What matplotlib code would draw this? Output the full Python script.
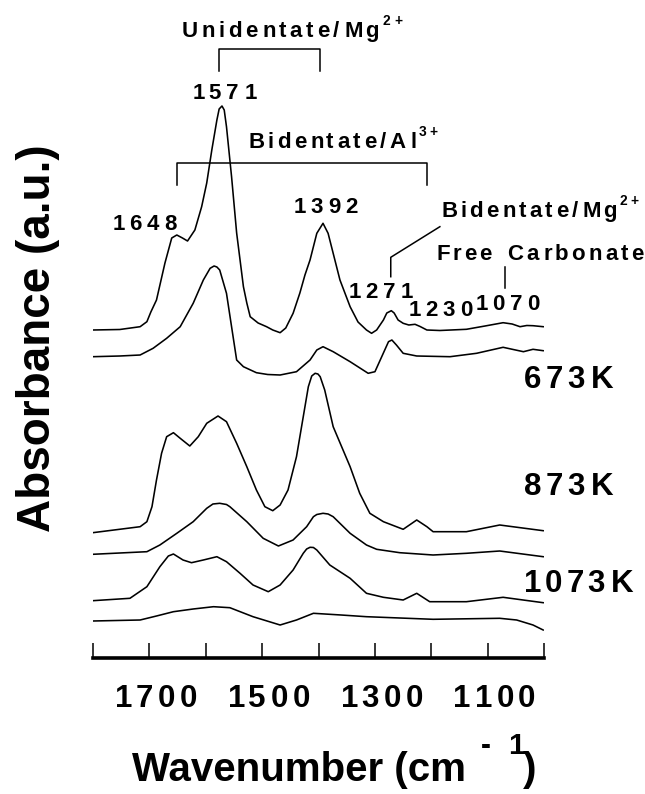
import matplotlib
matplotlib.use("Agg")
import matplotlib.pyplot as plt
from matplotlib.font_manager import FontProperties, findfont
from matplotlib.ft2font import FT2Font
from matplotlib.transforms import ScaledTranslation

# ---- IR spectra of adsorbed CO2 (stacked, arbitrary absorbance units) ----
wn_673_a = [1800, 1752, 1716, 1704, 1697, 1687, 1672, 1660, 1651, 1641, 1632, 1619, 1607, 1598, 1589, 1580,
            1576, 1571, 1567, 1563, 1554, 1545, 1533, 1527, 1521, 1507, 1492, 1481, 1468, 1458, 1445, 1433,
            1424, 1415, 1403, 1392, 1383, 1374, 1362, 1344, 1330, 1315, 1306, 1297, 1285, 1279, 1271,
            1266, 1259, 1250, 1240, 1229, 1220, 1208, 1185, 1138, 1105, 1073, 1057, 1043, 1031, 1020, 1002]
abs_673_a = [3.28, 3.285, 3.313, 3.363, 3.46, 3.58, 3.95, 4.20, 4.23, 4.20, 4.17, 4.28, 4.513, 4.75, 5.08, 5.38,
             5.49, 5.52, 5.48, 5.313, 4.813, 4.25, 3.713, 3.55, 3.413, 3.35, 3.313, 3.28, 3.253, 3.30, 3.447, 3.65,
             3.83, 3.98, 4.247, 4.347, 4.247, 4.047, 3.78, 3.513, 3.36, 3.28, 3.247, 3.28, 3.38, 3.45, 3.473,
             3.45, 3.38, 3.347, 3.33, 3.337, 3.315, 3.28, 3.275, 3.287, 3.32, 3.353, 3.34, 3.313, 3.325, 3.323, 3.313]

wn_673_b = [1800, 1752, 1716, 1693, 1669, 1645, 1622, 1604, 1592, 1585, 1580, 1575, 1563, 1554, 1545, 1533,
            1510, 1490, 1468, 1439, 1415, 1403, 1392, 1374, 1344, 1312, 1300, 1288, 1276, 1270, 1262,
            1250, 1226, 1167, 1120, 1073, 1037, 1020, 1002]
abs_673_b = [3.013, 3.02, 3.03, 3.097, 3.197, 3.313, 3.547, 3.78, 3.897, 3.92, 3.91, 3.88, 3.647, 3.313, 2.98, 2.913,
             2.853, 2.835, 2.83, 2.863, 2.98, 3.08, 3.113, 3.063, 2.963, 2.847, 2.863, 3.013, 3.163, 3.18, 3.13,
             3.047, 3.02, 3.013, 3.047, 3.107, 3.063, 3.087, 3.073]

wn_873_a = [1800, 1716, 1704, 1695, 1687, 1678, 1669, 1657, 1645, 1628, 1613, 1598, 1578, 1563, 1545,
            1527, 1510, 1495, 1481, 1468, 1454, 1439, 1427, 1418, 1412, 1406, 1401, 1397, 1389, 1374, 1344, 1327,
            1309, 1285, 1250, 1226, 1208, 1197, 1138, 1079, 1002]
abs_873_a = [1.253, 1.313, 1.363, 1.513, 1.78, 2.047, 2.213, 2.253, 2.197, 2.12, 2.213, 2.347, 2.42, 2.363, 2.147,
             1.913, 1.68, 1.513, 1.473, 1.53, 1.68, 2.013, 2.413, 2.713, 2.82, 2.847, 2.84, 2.813, 2.68, 2.313,
             1.913, 1.647, 1.447, 1.363, 1.287, 1.38, 1.313, 1.263, 1.263, 1.33, 1.273]

wn_873_b = [1800, 1704, 1681, 1651, 1622, 1598, 1587, 1575, 1563, 1557, 1527, 1498, 1471, 1445, 1421, 1409,
            1403, 1392, 1383, 1374, 1344, 1315, 1297, 1256, 1197, 1138, 1079, 1002]
abs_873_b = [1.037, 1.063, 1.13, 1.247, 1.363, 1.497, 1.54, 1.547, 1.535, 1.513, 1.363, 1.197, 1.12, 1.18, 1.313,
             1.413, 1.435, 1.447, 1.44, 1.413, 1.247, 1.13, 1.087, 1.053, 1.03, 1.047, 1.07, 1.013]

wn_1073_a = [1800, 1734, 1704, 1681, 1666, 1657, 1640, 1625, 1604, 1580, 1563, 1539, 1516, 1489, 1468, 1445,
             1427, 1421, 1415, 1409, 1403, 1380, 1344, 1315, 1285, 1250, 1226, 1203, 1138, 1073, 1002]
abs_1073_a = [0.573, 0.597, 0.713, 0.913, 1.02, 1.04, 0.98, 0.953, 0.98, 1.013, 0.963, 0.847, 0.73, 0.663, 0.73,
              0.88, 1.047, 1.09, 1.107, 1.105, 1.08, 0.93, 0.797, 0.647, 0.607, 0.58, 0.647, 0.563, 0.563, 0.607,
              0.553]

wn_1073_b = [1800, 1716, 1687, 1657, 1622, 1586, 1557, 1516, 1468, 1439, 1409, 1360, 1315, 1197, 1079,
             1049, 1020, 1002]
abs_1073_b = [0.37, 0.38, 0.42, 0.463, 0.49, 0.513, 0.503, 0.413, 0.33, 0.38, 0.447, 0.43, 0.413, 0.387, 0.397,
              0.38, 0.33, 0.28]

spectra = [(wn_673_a, abs_673_a), (wn_673_b, abs_673_b),
           (wn_873_a, abs_873_a), (wn_873_b, abs_873_b),
           (wn_1073_a, abs_1073_a), (wn_1073_b, abs_1073_b)]

temperature_labels = ["673K", "873K", "1073K"]
tick_positions = [1800, 1700, 1600, 1500, 1400, 1300, 1200, 1100, 1000]
tick_labels = ["1700", "1500", "1300", "1100"]

# ---- letter-spaced bold text helper ----
FAMILY = "Liberation Sans"
_fp = FontProperties(family=FAMILY, weight="bold")
_font = FT2Font(findfont(_fp))


def glyph_metrics(ch, size):
    _font.set_size(size, 72)
    g = _font.load_char(ord(ch))
    return g.linearHoriAdvance / 65536.0, g.horiBearingX / 64.0


def tracked_text(ax, x, y, segments, size, track=0.0, ha="left", rotation=0):
    """segments: (string, relative size, rise as fraction of size[, gap in pt before]).
    With track > 0 every glyph is placed on its own; otherwise each segment
    is drawn as a single string."""
    pieces = []
    pen = 0.0
    for seg in segments:
        text, rel, rise = seg[:3]
        pen += seg[3] if len(seg) > 3 else 0.0
        fs = size * rel
        if track > 0:
            for ch in text:
                adv, lsb = glyph_metrics(ch, fs)
                pieces.append((ch, fs, pen, lsb, rise * size))
                pen += adv + track
        else:
            lsb = glyph_metrics(text[0], fs)[1]
            pieces.append((text, fs, pen, lsb, rise * size))
            pen += sum(glyph_metrics(ch, fs)[0] for ch in text)
    total = pen - track if track > 0 else pen
    shift = {"left": 0.0, "center": -total / 2.0, "right": -total}[ha]
    fig = ax.figure
    for s, fs, p, lsb, rise in pieces:
        if s.strip() == "":
            continue
        along = (p + shift + lsb) / 72.0
        up = rise / 72.0
        if rotation == 90:
            dx, dy = -up, along
        else:
            dx, dy = along, up
        tr = ax.transData + ScaledTranslation(dx, dy, fig.dpi_scale_trans)
        ax.text(x, y, s, transform=tr, fontsize=fs, family=FAMILY, fontweight="bold",
                ha="left", va="baseline", rotation=rotation, rotation_mode="anchor",
                color="black", clip_on=False)


# ---- figure ----
W, H = 645, 794
fig = plt.figure(figsize=(W / 100, H / 100), dpi=100)
ax = fig.add_axes([92.7 / W, 136 / H, 451.6 / W, 658 / H])
ax.set_xlim(1800, 1000)
ax.set_ylim(0, 6.58)

for wn, ab in spectra:
    ax.plot(wn, ab, color="black", lw=1.15, solid_joinstyle="round")

for side in ("top", "left", "right"):
    ax.spines[side].set_visible(False)
ax.spines["bottom"].set_linewidth(2.6)
ax.set_yticks([])
ax.set_xticks(tick_positions)
ax.set_xticklabels([])
ax.tick_params(axis="x", direction="in", length=10.5, width=1.1)

ANN = 16
line_kw = dict(color="black", lw=1.1, clip_on=False)

# unidentate bracket
ax.plot([1577, 1577, 1397, 1397], [5.87, 6.09, 6.09, 5.87], **line_kw)
tracked_text(ax, 1645, 6.207, [("Unidentate/Mg", 1, 0), ("2+", 0.62, 0.55)], ANN, track=2.7)
tracked_text(ax, 1569, 5.59, [("1571", 1, 0)], ANN, track=3.6, ha="center")

# bidentate Al bracket
ax.plot([1651, 1651, 1208, 1208], [4.73, 4.953, 4.953, 4.73], **line_kw)
tracked_text(ax, 1527, 5.097, [("Bidentate/Al", 1, 0), ("3+", 0.62, 0.55)], ANN, track=2.5)
tracked_text(ax, 1710, 4.28, [("1648", 1, 0)], ANN, track=3.6, ha="center")
tracked_text(ax, 1389, 4.453, [("1392", 1, 0)], ANN, track=3.6, ha="center")

# bidentate Mg leader
ax.plot([1185, 1272, 1272], [4.313, 4.007, 3.813], **line_kw)
tracked_text(ax, 1185, 4.41, [("Bidentate/Mg", 1, 0), ("2+", 0.62, 0.55)], ANN, track=2.4)

# free carbonate
tracked_text(ax, 1194, 3.98, [("Free", 1, 0)], ANN, track=2.2)
tracked_text(ax, 1067, 3.98, [("Carbonate", 1, 0)], ANN, track=2.4)
ax.plot([1070, 1070], [3.697, 3.913], **line_kw)

tracked_text(ax, 1292, 3.597, [("1271", 1, 0)], ANN, track=3.6, ha="center")
tracked_text(ax, 1185, 3.42, [("1230", 1, 0)], ANN, track=3.6, ha="center")
tracked_text(ax, 1067, 3.48, [("1070", 1, 0)], ANN, track=3.6, ha="center")

# temperature labels
for label, (xl, yl) in zip(temperature_labels, [(1038, 2.70), (1038, 1.63), (1040, 0.663)]):
    tracked_text(ax, xl, yl, [(label, 1, 0)], 22.5, track=3.2)

# tick labels (set slightly right of their ticks)
for lab in tick_labels:
    tracked_text(ax, float(lab) - 9, -0.49, [(lab, 1, 0)], 22.5, track=3.2, ha="center")

# axis titles
tracked_text(ax, 1730, -1.23,
             [("Wavenumber (cm", 1, 0), ("-", 0.75, 0.68, 8.5), ("1", 0.75, 0.68, 12.0), (")", 1, 0)], 29)
tracked_text(ax, 1876, 1.25, [("Absorbance (a.u.)", 1, 0)], 33, rotation=90)

fig.savefig("out.png", dpi=100)
